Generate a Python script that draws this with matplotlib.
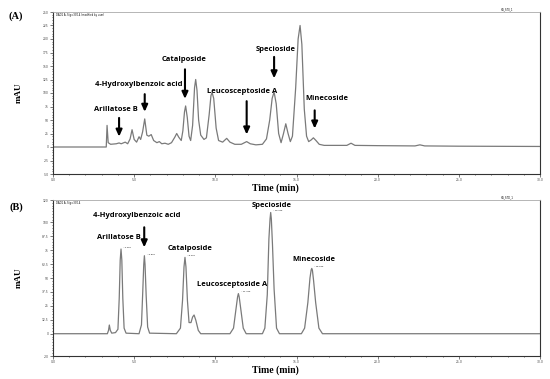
import numpy as np
import matplotlib.pyplot as plt
from matplotlib.ticker import MultipleLocator

# traced chromatogram (A): time (min), signal (mAU)
t_a = [0, 3.28, 3.33, 3.40, 3.55, 3.9, 4.07, 4.2, 4.45, 4.6, 4.75, 4.87, 5.0, 5.15, 5.3, 5.4,
       5.52, 5.65, 5.78, 5.9, 6.05, 6.2, 6.4, 6.55, 6.7, 6.9, 7.1, 7.3, 7.5, 7.62, 7.75, 7.9,
       8.0, 8.1, 8.17, 8.27, 8.38, 8.48, 8.6, 8.72, 8.79, 8.87, 8.97, 9.1, 9.3, 9.45, 9.62,
       9.73, 9.8, 9.9, 10.05, 10.2, 10.45, 10.7, 10.9, 11.2, 11.6, 11.93, 12.15, 12.5, 12.9,
       13.15, 13.35, 13.5, 13.62, 13.75, 13.9, 14.05, 14.2, 14.34, 14.48, 14.62, 14.75, 14.95,
       15.1, 15.22, 15.33, 15.48, 15.62, 15.75, 15.9, 16.04, 16.2, 16.4, 16.7, 17.5, 18.1,
       18.36, 18.6, 20, 22.3, 22.6, 22.9, 25, 30]
v_a = [0, 0, 40, 8, 5, 6, 7.5, 6, 9, 6, 15, 32, 14, 9, 19, 14,
       28, 52, 22, 20, 23, 12, 8, 10, 6, 7, 5, 8, 18, 25, 18, 12,
       30, 65, 76, 55, 20, 12, 40, 110, 125, 105, 50, 22, 14, 17, 60,
       95, 101, 90, 35, 12, 9, 16, 9, 5, 5, 10, 6, 4, 5,
       15, 50, 90, 102, 80, 25, 8, 25, 43, 25, 10, 20, 110,
       200, 225, 190, 70, 20, 10, 13, 17, 12, 5, 3, 3, 3,
       7, 3, 2.5, 2, 4, 2, 1.5, 1]

# traced chromatogram (B): standards mix
t_b = [0, 3.35, 3.42, 3.47, 3.53, 3.62, 3.85, 4.0, 4.08, 4.14, 4.19, 4.24, 4.30, 4.38, 4.5,
       5.3, 5.45, 5.53, 5.59, 5.63, 5.67, 5.74, 5.83, 5.95, 7.6, 7.85, 7.98, 8.07, 8.13, 8.19,
       8.28, 8.38, 8.5, 8.6, 8.69, 8.8, 8.95, 9.1, 10.9, 11.12, 11.28, 11.37, 11.42, 11.47,
       11.56, 11.72, 11.9, 12.9, 13.05, 13.2, 13.3, 13.37, 13.41, 13.45, 13.52, 13.62, 13.77,
       13.95, 15.3, 15.5, 15.7, 15.83, 15.9, 15.94, 15.98, 16.05, 16.18, 16.38, 16.6, 30]
v_b = [0, 0, 3, 7.8, 3, 0.5, 1, 4, 32, 66, 76, 66, 32, 5, 0.5,
       0, 8, 38, 62, 70, 62, 34, 6, 0.5, 0, 5, 30, 60, 68.5, 60,
       30, 10, 10, 15, 16.8, 12, 3, 0, 0, 5, 23, 33, 36, 33,
       23, 5, 0, 0, 5, 35, 85, 103, 108.8, 103, 80, 40, 5,
       0, 0, 5, 28, 50, 57, 58.6, 57, 48, 28, 5, 0, 0]

# labels: (text, x, y), arrows: (x, y_from, y_to)
labels_a = [("Arillatose B", 3.85, 70), ("4-Hydroxylbenzoic acid", 5.27, 116),
            ("Catalposide", 8.07, 162), ("Leucosceptoside A", 11.64, 103),
            ("Specioside", 13.7, 181), ("Minecoside", 16.88, 90)]
arrows_a = [(4.07, 59, 14), (5.65, 103, 60), (8.13, 149, 84), (11.93, 90, 18),
            (13.62, 172, 122), (16.12, 73, 29)]
labels_b = [("4-Hydroxylbenzoic acid", 5.13, 105.7), ("Arillatose B", 4.07, 86.4),
            ("Catalposide", 8.47, 76.5), ("Leucosceptoside A", 11.03, 44.5),
            ("Specioside", 13.45, 114.7), ("Minecoside", 16.08, 67)]
arrows_b = [(5.62, 98, 75)]
rt_b = [4.19, 5.63, 8.13, 11.42, 13.41, 15.94]
rt_h = [76, 70, 68.5, 36, 108.8, 58.6]

fig = plt.figure(figsize=(5.5, 3.79), dpi=100)
ax_a = fig.add_axes([53/550, 1 - 174/379, 487/550, 162/379])
ax_b = fig.add_axes([53/550, 1 - 356/379, 487/550, 156/379])

lab_font = dict(family=["Open Sans", "DejaVu Sans"], weight="bold", fontsize=5.4)
serif = dict(family="Liberation Serif", weight="bold")


def style(ax, ylim, yticks, minor):
    ax.set_xlim(0, 30)
    ax.set_ylim(*ylim)
    ax.set_xticks([0, 5, 10, 15, 20, 25, 30])
    ax.set_xticklabels(["0.0", "5.0", "10.0", "15.0", "20.0", "25.0", "30.0"])
    ax.xaxis.set_minor_locator(MultipleLocator(1))
    ax.set_yticks(yticks)
    ax.set_yticklabels([f"{y:g}" for y in yticks])
    ax.yaxis.set_minor_locator(MultipleLocator(minor))
    ax.tick_params(labelsize=2.2, length=2, width=0.5, pad=1, colors="#444444")
    ax.tick_params(which="minor", length=1, width=0.4)
    for s in ["left", "bottom", "right"]:
        ax.spines[s].set_linewidth(0.8)
        ax.spines[s].set_color("#333333")
    ax.spines["top"].set_linewidth(0.6)
    ax.spines["top"].set_color("#aaaaaa")
    ax.set_xlabel("Time (min)", fontsize=7, labelpad=3, **serif)
    ax.xaxis.set_label_coords(0.457, -0.06)
    ax.set_ylabel("mAU", fontsize=6.5, labelpad=2, **serif)
    ax.yaxis.set_label_coords(-0.062, 0.5)


ax_a.plot(t_a, v_a, color="#7a7a7a", lw=0.9)
style(ax_a, (-50, 250), list(range(-50, 251, 25)), 5)
for txt, x, y in labels_a:
    ax_a.text(x, y, txt, ha="center", va="center", **lab_font)
for x, y0, y1 in arrows_a:
    ax_a.annotate("", xy=(x, y1), xytext=(x, y0),
                  arrowprops=dict(arrowstyle="-|>,head_width=0.18,head_length=0.4",
                                  lw=1.5, color="black"))
ax_a.text(0.2, 248, "DAD1 A, Sig=330,4 (modified by user)", fontsize=1.8, va="top")
ax_a.text(27.6, 251, "HG_ST0_1", fontsize=1.8, va="bottom")

ax_b.plot(t_b, v_b, color="#7a7a7a", lw=0.9)
style(ax_b, (-20, 120), [-20, 0, 12.5, 25, 37.5, 50, 62.5, 75, 87.5, 100, 120], 2.5)
for txt, x, y in labels_b:
    ax_b.text(x, y, txt, ha="center", va="center", **lab_font)
for x, y0, y1 in arrows_b:
    ax_b.annotate("", xy=(x, y1), xytext=(x, y0),
                  arrowprops=dict(arrowstyle="-|>,head_width=0.18,head_length=0.4",
                                  lw=1.5, color="black"))
for rt, h in zip(rt_b, rt_h):
    ax_b.text(rt + 0.15, h + 1, f"- {rt:.3f}", fontsize=1.6, va="bottom")
ax_b.text(0.2, 119, "DAD1 A, Sig=330,4", fontsize=1.8, va="top")
ax_b.text(27.6, 121, "HG_STD_1", fontsize=1.8, va="bottom")

fig.text(16/550, 1 - 16/379, "(A)", fontsize=7.5, ha="center", va="center", **serif)
fig.text(16/550, 1 - 207/379, "(B)", fontsize=7.5, ha="center", va="center", **serif)

fig.savefig("out.png", dpi=100)
